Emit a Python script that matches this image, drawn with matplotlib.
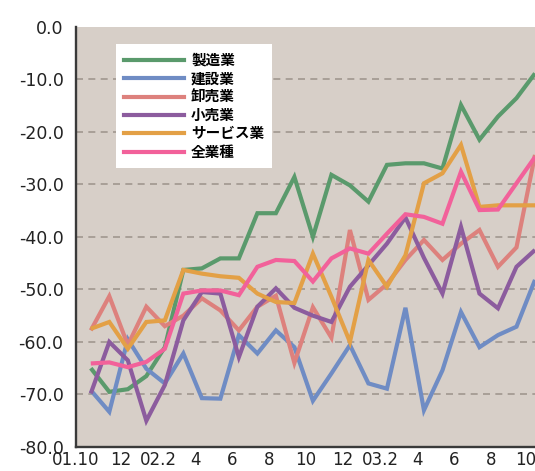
import matplotlib
matplotlib.use("Agg")
import matplotlib.pyplot as plt
from matplotlib.lines import Line2D

plt.rcParams['axes.unicode_minus'] = False

months = ["01.10", "11", "12", "02.1", "2", "3", "4", "5", "6", "7", "8", "9",
          "10", "11", "12", "03.1", "2", "3", "4", "5", "6", "7", "8", "9", "10"]
tick_labels = ["01.10", "12", "02.2", "4", "6", "8", "10", "12", "03.2", "4", "6", "8", "10"]

series_names = ["製造業", "建設業", "卸売業", "小売業", "サービス業", "全業種"]

manufacturing = [-65.0, -69.5, -69.0, -66.5, -61.0, -46.3, -46.0, -44.1, -44.1, -35.5, -35.5, -28.6,
                 -40.0, -28.2, -30.2, -33.3, -26.3, -26.0, -26.0, -27.0, -14.9, -21.5, -17.1, -13.6, -8.9]
construction = [-69.2, -73.3, -59.5, -65.1, -67.9, -62.2, -70.7, -70.8, -58.7, -62.2, -57.8, -61.0,
                -71.2, -66.0, -60.6, -67.9, -68.9, -53.5, -73.0, -65.4, -54.3, -61.0, -58.7, -57.1, -48.2]
wholesale = [-57.8, -51.3, -60.6, -53.3, -57.0, -55.0, -51.7, -54.0, -57.8, -53.3, -51.2, -64.0,
             -53.4, -59.2, -38.7, -52.0, -49.0, -44.4, -40.6, -44.4, -41.3, -38.7, -45.7, -42.0, -24.4]
retail = [-69.8, -60.0, -63.5, -75.0, -68.2, -55.9, -50.5, -50.8, -62.9, -53.3, -49.8, -53.5,
          -55.0, -56.2, -49.5, -45.4, -41.3, -36.3, -44.0, -50.8, -38.1, -50.8, -53.6, -45.7, -42.5]
services = [-57.5, -56.2, -61.3, -56.2, -55.9, -46.3, -47.0, -47.5, -47.8, -50.8, -52.4, -52.6,
            -43.2, -51.4, -60.0, -44.4, -49.5, -43.5, -29.8, -27.9, -22.5, -34.3, -34.0, -34.0, -34.0]
all_industries = [-64.1, -63.9, -64.8, -63.8, -61.3, -50.8, -50.2, -50.2, -51.1, -45.7, -44.4, -44.6,
                  -48.5, -44.1, -42.2, -43.2, -39.4, -35.7, -36.2, -37.5, -27.6, -34.9, -34.8, -29.8, -24.8]

series = [manufacturing, construction, wholesale, retail, services, all_industries]
colors = ["#5a9a6c", "#6f8cc4", "#dd817d", "#8c5c9e", "#e3a046", "#f2619a"]

fig = plt.figure(figsize=(5.35, 4.71), dpi=100)
ax = fig.add_axes([76 / 535, 24 / 471, 459 / 535, 420.3 / 471])
ax.set_facecolor("#d7cfc8")

x = list(range(len(months)))
for vals, col in zip(series, colors):
    ax.plot(x, vals, color=col, lw=3.0, solid_joinstyle="miter", solid_capstyle="butt", zorder=3)

ax.set_xlim(-0.37, 24.0)
ax.set_ylim(-80, 0)

ax.set_yticks(range(0, -81, -10))
ax.set_yticklabels([f"{v:.1f}" for v in range(0, -81, -10)])
for gy in range(-10, -71, -10):
    ax.axhline(gy, color="#a0978f", lw=1.2, linestyle=(0, (4.2, 3.2)), zorder=1)

# month labels every two months, sitting slightly left of each point
tick_pos = [i - 0.37 for i in range(0, 25, 2)]
tick_pos[0] = -0.8
tick_pos[-1] = 23.5
ax.set_xticks(tick_pos)
ax.set_xticklabels(tick_labels)

ax.tick_params(axis="both", length=0, colors="#222222")
ax.tick_params(axis="y", pad=9, labelsize=12.5)
ax.tick_params(axis="x", pad=3, labelsize=12)
for lab in ax.get_xticklabels() + ax.get_yticklabels():
    lab.set_family("DejaVu Sans")

for side in ("top", "right"):
    ax.spines[side].set_visible(False)
for side in ("left", "bottom"):
    ax.spines[side].set_color("#3a3a3a")
    ax.spines[side].set_linewidth(1.7)

handles = [Line2D([0], [0], color=c, lw=3.0) for c in colors]
leg = ax.legend(handles, series_names, loc="upper left", bbox_to_anchor=(0.087, 0.959),
                borderaxespad=0, frameon=True, fancybox=False, framealpha=1.0,
                handlelength=4.1, handletextpad=0.5, labelspacing=0.16, borderpad=0.55,
                prop={"family": ["Noto Sans CJK JP", "DejaVu Sans"], "weight": "bold", "size": 10.5})
leg.get_frame().set_facecolor("white")
leg.get_frame().set_linewidth(0)
leg.set_zorder(5)

fig.savefig("out.png", dpi=100)
